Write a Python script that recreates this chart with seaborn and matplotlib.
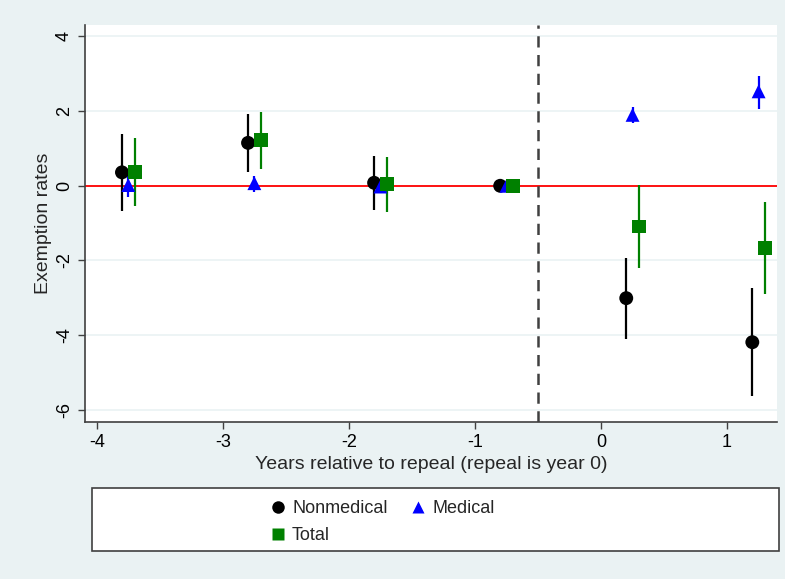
import numpy as np
import pandas as pd
import matplotlib
matplotlib.use("Agg")
import matplotlib.pyplot as plt
import seaborn as sns
from matplotlib.patches import Rectangle

years = [-4, -3, -2, -1, 0, 1]
series = ["Nonmedical", "Medical", "Total"]

nonmed = [0.36, 1.15, 0.08, 0.0, -3.01, -4.19]
nonmed_lo = [-0.67, 0.37, -0.65, 0.0, -4.11, -5.62]
nonmed_hi = [1.39, 1.92, 0.81, 0.0, -1.93, -2.75]

med = [0.02, 0.07, -0.02, 0.0, 1.90, 2.53]
med_lo = [-0.30, -0.16, -0.15, 0.0, 1.68, 2.06]
med_hi = [0.30, 0.25, 0.12, 0.0, 2.11, 2.95]

total = [0.37, 1.22, 0.05, 0.0, -1.09, -1.67]
total_lo = [-0.55, 0.46, -0.70, 0.0, -2.20, -2.91]
total_hi = [1.28, 1.99, 0.78, 0.0, 0.02, -0.43]

yticks = [4, 2, 0, -2, -4, -6]
xticks = [-4, -3, -2, -1, 0, 1]

# small shift of each series so the points don't overlap
offsets = {"Nonmedical": 0.2, "Medical": 0.25, "Total": 0.3}
colors = {"Nonmedical": "black", "Medical": "#0000ff", "Total": "#008000"}
markers = {"Nonmedical": "o", "Medical": "^", "Total": "s"}

rows = []
for name, est, lo, hi in [("Nonmedical", nonmed, nonmed_lo, nonmed_hi),
                          ("Medical", med, med_lo, med_hi),
                          ("Total", total, total_lo, total_hi)]:
    for yr, e, l, h in zip(years, est, lo, hi):
        rows.append({"series": name, "x": yr + offsets[name], "est": e, "lo": l, "hi": h})
df = pd.DataFrame(rows)

sns.set_theme(style="white")
plt.rcParams["font.family"] = ["Liberation Sans", "DejaVu Sans"]
plt.rcParams["axes.unicode_minus"] = False

bg = "#eaf2f3"
fig = plt.figure(figsize=(7.85, 5.79), dpi=100, facecolor=bg)
ax = fig.add_axes([0.108, 0.271, 0.882, 0.686])
ax.set_facecolor("white")

ax.set_xlim(-4.095, 1.397)
ax.set_ylim(-6.33, 4.31)

for y in yticks:
    ax.axhline(y, color=bg, lw=1.2, zorder=0)
ax.axhline(0, color="#ff0000", lw=1.3, zorder=1)
ax.axvline(-0.5, color="#404040", lw=1.8, ls=(0, (4.5, 3)), zorder=1)

for name in series:
    sub = df[df["series"] == name]
    ax.vlines(sub["x"], sub["lo"], sub["hi"], color=colors[name], lw=1.6, zorder=2)

sns.scatterplot(data=df, x="x", y="est", hue="series", style="series",
                palette=colors, markers=markers, hue_order=series,
                style_order=series, s=100, edgecolor="none", ax=ax, zorder=3)

ax.set_xticks(xticks)
ax.set_yticks(yticks)
ax.set_yticklabels([str(t) for t in yticks], rotation=90, va="center")
ax.tick_params(axis="both", direction="out", length=5, width=1, color="#404040",
               labelsize=13, labelcolor="black", left=True, bottom=True)
ax.set_xlabel("Years relative to repeal (repeal is year 0)", fontsize=14, labelpad=4)
ax.set_ylabel("Exemption rates", fontsize=14, labelpad=3)

for side in ["top", "right"]:
    ax.spines[side].set_visible(False)
for side in ["left", "bottom"]:
    ax.spines[side].set_color("#404040")
    ax.spines[side].set_linewidth(1.2)

handles, labels = ax.get_legend_handles_labels()
ax.legend_.remove()
# row-wise order: Nonmedical, Medical / Total
order = [0, 2, 1]
handles = [handles[i] for i in order]
labels = [labels[i] for i in order]
fig.patches.append(Rectangle((92 / 785, 1 - 551 / 579), 687 / 785, 63 / 579,
                             transform=fig.transFigure, facecolor="white",
                             edgecolor="#404040", lw=1.2, zorder=0))
fig.legend(handles, labels, loc="center", bbox_to_anchor=(0.486, 0.098), ncol=2,
           frameon=False, fontsize=13, handletextpad=0.3, columnspacing=1.17,
           labelspacing=0.55, handlelength=1.0, markerscale=0.9)

fig.savefig("out.png", dpi=100, facecolor=bg)
